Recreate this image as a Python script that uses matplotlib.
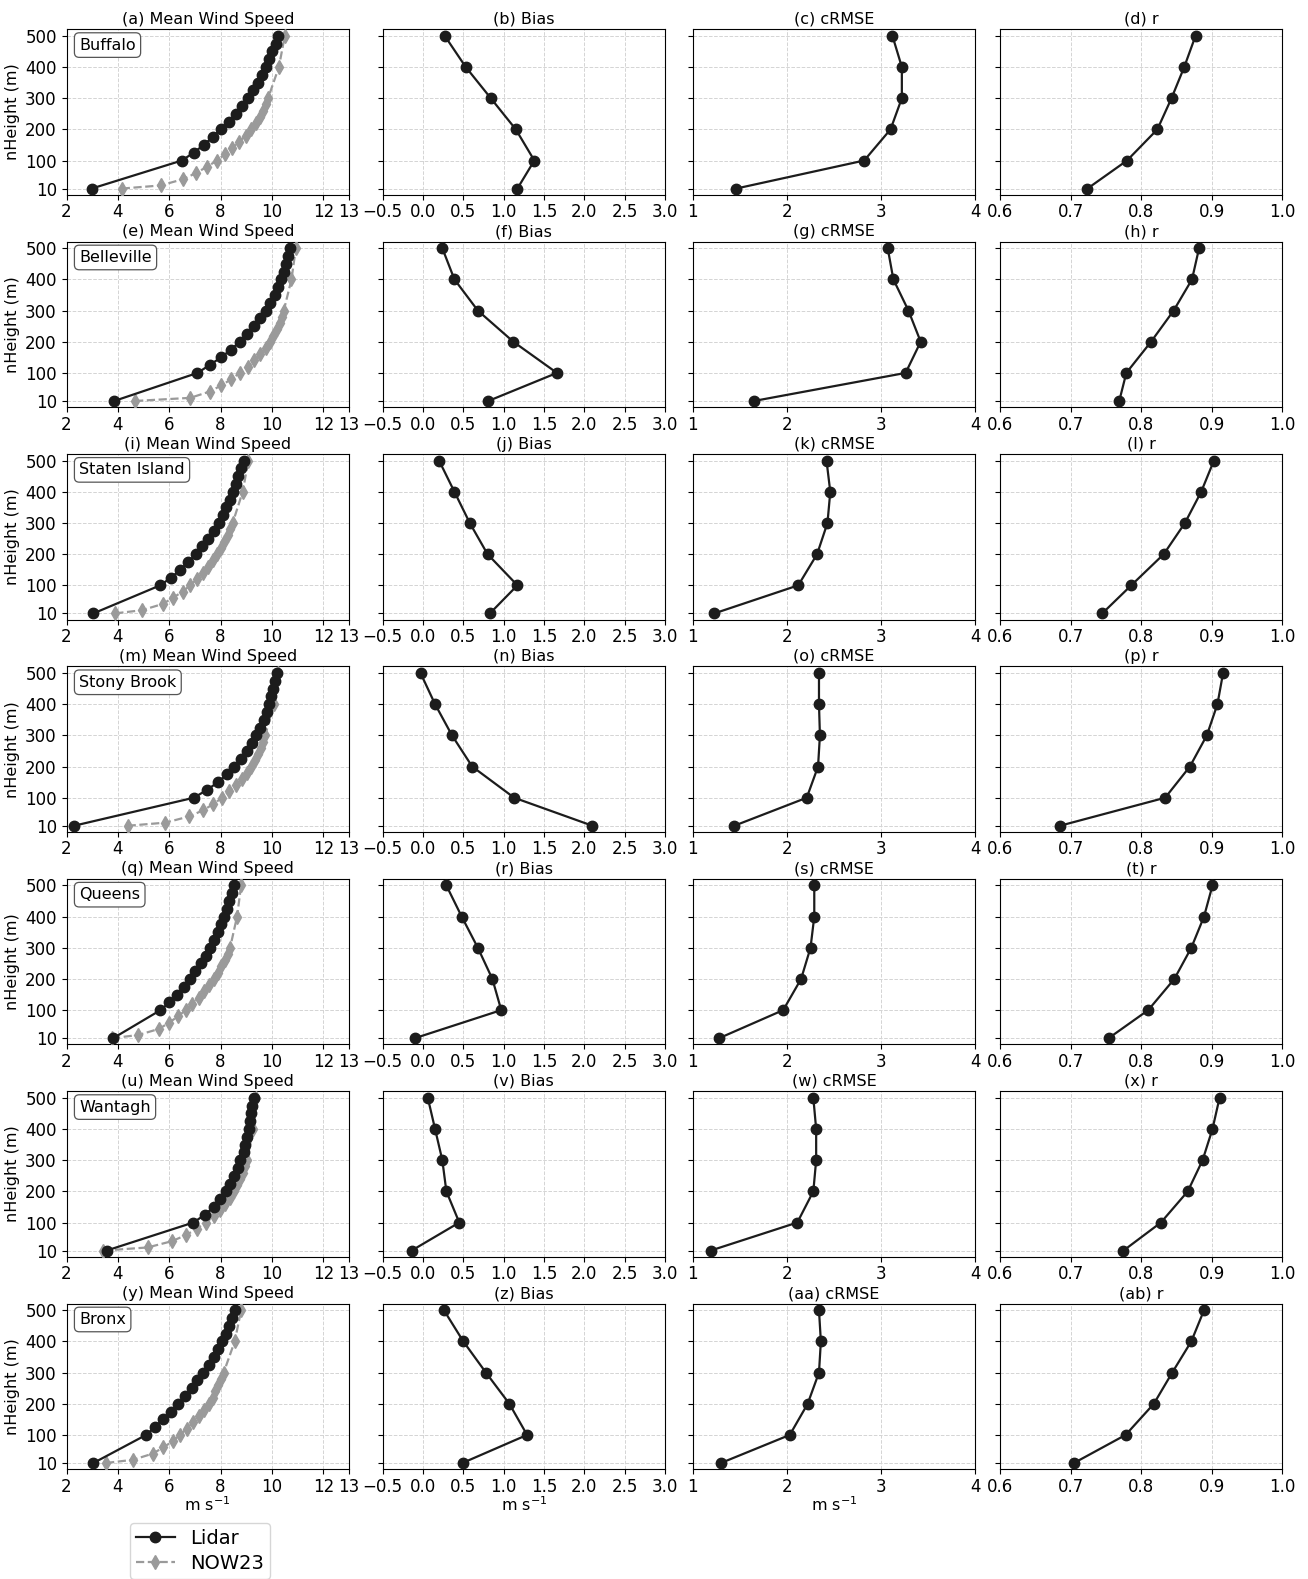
import matplotlib
matplotlib.use("Agg")
import matplotlib.pyplot as plt
from matplotlib.lines import Line2D

# alturas de medición
h_lidar = [10, 100, 125, 150, 175, 200, 225, 250, 275, 300, 325, 350, 375, 400, 425, 450, 475, 500]
h_now23 = [10, 20, 40, 60, 80, 100, 120, 140, 160, 180, 200, 220, 240, 260, 280, 300, 400, 500]
h_stats = [10, 100, 200, 300, 400, 500]

sites = ["Buffalo", "Belleville", "Staten Island", "Stony Brook", "Queens", "Wantagh", "Bronx"]

# velocidad media del viento (m/s) por sitio
ws_lidar = {
    "Buffalo": [2.98, 6.49, 6.95, 7.34, 7.69, 8.00, 8.31, 8.59, 8.84, 9.06, 9.27, 9.46, 9.63, 9.77, 9.89, 10.02, 10.15, 10.24],
    "Belleville": [3.86, 7.10, 7.57, 8.02, 8.41, 8.74, 9.04, 9.32, 9.55, 9.76, 9.94, 10.10, 10.24, 10.36, 10.46, 10.54, 10.62, 10.70],
    "Staten Island": [3.05, 5.65, 6.08, 6.43, 6.75, 7.04, 7.29, 7.52, 7.73, 7.92, 8.08, 8.22, 8.35, 8.48, 8.59, 8.69, 8.80, 8.90],
    "Stony Brook": [2.29, 6.96, 7.47, 7.90, 8.25, 8.54, 8.80, 9.02, 9.22, 9.39, 9.55, 9.68, 9.80, 9.90, 9.98, 10.06, 10.13, 10.21],
    "Queens": [3.82, 5.66, 6.01, 6.30, 6.56, 6.79, 7.01, 7.22, 7.42, 7.59, 7.74, 7.89, 8.02, 8.15, 8.25, 8.34, 8.43, 8.54],
    "Wantagh": [3.56, 6.94, 7.39, 7.73, 7.99, 8.21, 8.38, 8.53, 8.66, 8.77, 8.90, 8.96, 9.03, 9.09, 9.14, 9.18, 9.23, 9.29],
    "Bronx": [3.05, 5.10, 5.44, 5.76, 6.06, 6.36, 6.62, 6.87, 7.10, 7.32, 7.53, 7.73, 7.90, 8.05, 8.20, 8.33, 8.46, 8.57],
}
ws_now23 = {
    "Buffalo": [4.15, 5.67, 6.53, 7.05, 7.47, 7.86, 8.16, 8.45, 8.72, 8.97, 9.19, 9.37, 9.53, 9.66, 9.76, 9.85, 10.27, 10.50],
    "Belleville": [4.67, 6.82, 7.57, 8.03, 8.42, 8.74, 9.06, 9.32, 9.54, 9.75, 9.92, 10.06, 10.19, 10.30, 10.39, 10.46, 10.76, 10.93],
    "Staten Island": [3.90, 4.93, 5.74, 6.15, 6.52, 6.82, 7.08, 7.30, 7.52, 7.70, 7.87, 8.02, 8.15, 8.28, 8.38, 8.47, 8.86, 9.08],
    "Stony Brook": [4.38, 5.85, 6.78, 7.33, 7.72, 8.06, 8.33, 8.59, 8.83, 9.02, 9.19, 9.34, 9.45, 9.57, 9.66, 9.74, 10.07, 10.24],
    "Queens": [3.77, 4.79, 5.61, 6.00, 6.34, 6.64, 6.90, 7.14, 7.35, 7.55, 7.73, 7.89, 8.03, 8.16, 8.27, 8.37, 8.64, 8.80],
    "Wantagh": [3.43, 5.16, 6.10, 6.66, 7.07, 7.42, 7.74, 7.98, 8.19, 8.38, 8.52, 8.65, 8.75, 8.86, 8.95, 9.03, 9.27, 9.38],
    "Bronx": [3.54, 4.58, 5.36, 5.77, 6.14, 6.42, 6.68, 6.92, 7.14, 7.35, 7.53, 7.70, 7.79, 7.91, 8.01, 8.12, 8.55, 8.80],
}

# métricas NOW23 vs lidar en h_stats
bias = {
    "Buffalo": [1.17, 1.38, 1.15, 0.84, 0.53, 0.27],
    "Belleville": [0.81, 1.66, 1.12, 0.68, 0.39, 0.24],
    "Staten Island": [0.83, 1.17, 0.80, 0.58, 0.39, 0.20],
    "Stony Brook": [2.10, 1.13, 0.61, 0.36, 0.15, -0.03],
    "Queens": [-0.10, 0.97, 0.86, 0.68, 0.48, 0.29],
    "Wantagh": [-0.14, 0.45, 0.29, 0.24, 0.15, 0.06],
    "Bronx": [0.49, 1.29, 1.07, 0.78, 0.50, 0.26],
}
crmse = {
    "Buffalo": [1.46, 2.82, 3.10, 3.22, 3.22, 3.12],
    "Belleville": [1.65, 3.26, 3.42, 3.29, 3.13, 3.07],
    "Staten Island": [1.23, 2.12, 2.32, 2.43, 2.46, 2.42],
    "Stony Brook": [1.44, 2.21, 2.33, 2.35, 2.34, 2.34],
    "Queens": [1.28, 1.96, 2.15, 2.25, 2.29, 2.29],
    "Wantagh": [1.19, 2.11, 2.28, 2.31, 2.31, 2.28],
    "Bronx": [1.30, 2.03, 2.22, 2.34, 2.36, 2.34],
}
corr = {
    "Buffalo": [0.724, 0.780, 0.823, 0.843, 0.861, 0.877],
    "Belleville": [0.769, 0.779, 0.814, 0.846, 0.872, 0.882],
    "Staten Island": [0.745, 0.786, 0.832, 0.862, 0.885, 0.903],
    "Stony Brook": [0.685, 0.834, 0.869, 0.893, 0.908, 0.916],
    "Queens": [0.754, 0.810, 0.847, 0.871, 0.889, 0.901],
    "Wantagh": [0.775, 0.828, 0.866, 0.887, 0.901, 0.911],
    "Bronx": [0.705, 0.778, 0.818, 0.844, 0.871, 0.889],
}

letters = ["a", "b", "c", "d", "e", "f", "g", "h", "i", "j", "k", "l", "m", "n",
           "o", "p", "q", "r", "s", "t", "u", "v", "w", "x", "y", "z", "aa", "ab"]
col_names = ["Mean Wind Speed", "Bias", "cRMSE", "r"]

LIDAR_C = "#1c1c1c"
NOW_C = "#9a9a9a"

fig = plt.figure(figsize=(13.08, 15.79), dpi=100)
W, H = 1308.0, 1579.0
col_x = [66.5, 382.6, 692.8, 999.9]
ax_w, ax_h = 282.5, 165.5
row_top0, row_pitch = 29.3, 212.4

xlims = [(2, 13), (-0.5, 3.0), (1, 4), (0.6, 1.0)]
xticks = [[2, 4, 6, 8, 10, 12, 13],
          [-0.5, 0.0, 0.5, 1.0, 1.5, 2.0, 2.5, 3.0],
          [1, 2, 3, 4],
          [0.6, 0.7, 0.8, 0.9, 1.0]]

line_kw = dict(color=LIDAR_C, lw=1.6, marker="o", ms=7.5)
now_kw = dict(color=NOW_C, lw=1.6, ls="--", marker="d", ms=7.5)

for i, site in enumerate(sites):
    top = row_top0 + i * row_pitch
    for j in range(4):
        ax = fig.add_axes([col_x[j] / W, 1 - (top + ax_h) / H, ax_w / W, ax_h / H])
        if j == 0:
            ax.plot(ws_now23[site], h_now23, **now_kw, zorder=3)
            ax.plot(ws_lidar[site], h_lidar, **line_kw, zorder=4)
            ax.text(0.045, 0.95, site, transform=ax.transAxes, ha="left", va="top",
                    fontsize=11.5, zorder=5,
                    bbox=dict(boxstyle="round,pad=0.3", fc="white", ec="#555555", lw=0.9))
            ax.set_ylabel("nHeight (m)", fontsize=11.5)
        else:
            vals = [bias, crmse, corr][j - 1][site]
            ax.plot(vals, h_stats, **line_kw, zorder=4)
        ax.set_xlim(*xlims[j])
        ax.set_xticks(xticks[j])
        if j == 1:
            ax.set_xticklabels(["\u22120.5", "0.0", "0.5", "1.0", "1.5", "2.0", "2.5", "3.0"])
        ax.set_ylim(-10, 521)
        ax.set_yticks(h_stats)
        if j > 0:
            ax.set_yticklabels([])
        ax.tick_params(labelsize=12)
        ax.tick_params(axis="x", pad=2.5)
        ax.grid(True, ls="--", lw=0.7, color="#d4d4d4")
        ax.set_axisbelow(True)
        ax.set_title(f"({letters[i * 4 + j]}) {col_names[j]}", fontsize=11.5, pad=4)
        if i == len(sites) - 1 and j < 3:
            ax.set_xlabel("m s$^{-1}$", fontsize=11.5, labelpad=0)

handles = [Line2D([], [], **line_kw), Line2D([], [], **now_kw)]
fig.legend(handles, ["Lidar", "NOW23"], loc="upper center", bbox_to_anchor=(0.153, 0.0415),
           fontsize=14, frameon=True, fancybox=True, edgecolor="#cccccc",
           labelspacing=0.3, borderpad=0.3, handlelength=2.0)

fig.savefig("out.png", dpi=100, facecolor="white")
